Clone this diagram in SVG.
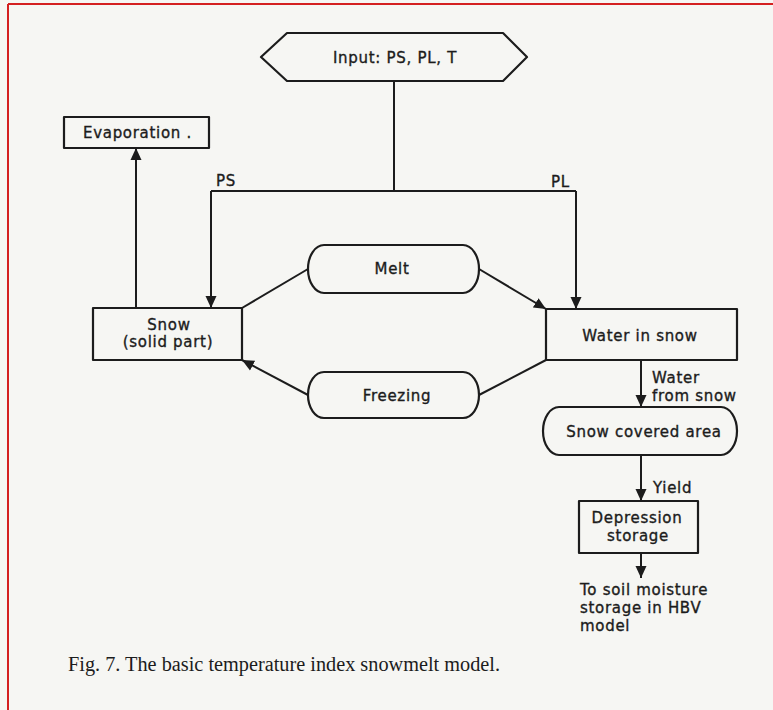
<svg xmlns="http://www.w3.org/2000/svg" width="773" height="710" viewBox="0 0 773 710">
<style>
.bg{fill:#f6f6f3}
.shape{fill:none;stroke:#1c1c1c;stroke-width:2.2;stroke-linejoin:round}
.wire{fill:none;stroke:#1c1c1c;stroke-width:2}
.t{font-family:"DejaVu Sans","Liberation Sans",sans-serif;font-size:15px;fill:#1c1c1c;stroke:#1c1c1c;stroke-width:0.35px;letter-spacing:0.7px}
.m{text-anchor:middle}
.cap{font-family:"Liberation Serif","DejaVu Serif",serif;font-size:20px;fill:#1c1c1c}
</style>
<defs>
<marker id="ah" markerUnits="userSpaceOnUse" markerWidth="13" markerHeight="12" refX="12" refY="6" orient="auto">
<path d="M0,0.5 L12,6 L0,11.5 Z" fill="#1c1c1c"/>
</marker>
</defs>
<rect class="bg" x="0" y="0" width="773" height="710"/>
<line x1="8" y1="4" x2="773" y2="4" stroke="#d42020" stroke-width="2"/>
<line x1="8" y1="4" x2="8" y2="710" stroke="#d42020" stroke-width="2"/>

<g id="connectors">
<polyline class="wire" points="394,81 394,191"/>
<polyline class="wire" points="211,191 576,191"/>
<line class="wire" x1="211" y1="191" x2="211" y2="308" marker-end="url(#ah)"/>
<line class="wire" x1="576" y1="191" x2="576" y2="309" marker-end="url(#ah)"/>
<line class="wire" x1="136" y1="308" x2="136" y2="148" marker-end="url(#ah)"/>
<line class="wire" x1="308" y1="269" x2="242" y2="308"/>
<line class="wire" x1="479" y1="269" x2="546" y2="309" marker-end="url(#ah)"/>
<line class="wire" x1="546" y1="360" x2="479" y2="395"/>
<line class="wire" x1="308" y1="395" x2="242" y2="360" marker-end="url(#ah)"/>
<line class="wire" x1="641" y1="360" x2="641" y2="407" marker-end="url(#ah)"/>
<line class="wire" x1="641" y1="455" x2="641" y2="501" marker-end="url(#ah)"/>
<line class="wire" x1="641" y1="553" x2="641" y2="578" marker-end="url(#ah)"/>
<text class="t" x="216" y="186">PS</text>
<text class="t" x="551" y="187">PL</text>
<text class="t" x="652" y="383">Water</text>
<text class="t" x="652" y="401">from snow</text>
<text class="t" x="653" y="493">Yield</text>
</g>

<g id="input">
<polygon class="shape" points="261,57 287,33 503,33 527,57 503,81 287,81"/>
<text class="t m" x="395" y="63">Input: PS, PL, T</text>
</g>

<g id="evaporation">
<rect class="shape" x="64" y="117" width="145" height="31"/>
<text class="t" x="83" y="138">Evaporation .</text>
</g>

<g id="snow">
<rect class="shape" x="93" y="308" width="149" height="52"/>
<text class="t m" x="169" y="330">Snow</text>
<text class="t m" x="168" y="347">(solid part)</text>
</g>

<g id="melt">
<path class="shape" d="M324,245 H463 A16,24 0 0 1 463,293 H324 A16,24 0 0 1 324,245 Z"/>
<text class="t m" x="392" y="274">Melt</text>
</g>

<g id="freezing">
<path class="shape" d="M324,372 H463 A16,23 0 0 1 463,418 H324 A16,23 0 0 1 324,372 Z"/>
<text class="t m" x="397" y="401">Freezing</text>
</g>

<g id="water-in-snow">
<rect class="shape" x="546" y="309" width="191" height="51"/>
<text class="t m" x="640" y="341">Water in snow</text>
</g>

<g id="snow-covered-area">
<path class="shape" d="M559,407 H721 A16,24 0 0 1 721,455 H559 A16,24 0 0 1 559,407 Z"/>
<text class="t m" x="644" y="437">Snow covered area</text>
</g>

<g id="depression-storage">
<rect class="shape" x="579" y="501" width="119" height="52"/>
<text class="t m" x="637" y="523">Depression</text>
<text class="t m" x="638" y="541">storage</text>
</g>

<g id="soil-moisture">
<text class="t" x="580" y="595">To soil moisture</text>
<text class="t" x="580" y="613">storage in HBV</text>
<text class="t" x="580" y="631">model</text>
</g>

<text class="cap" x="68" y="671" textLength="432" lengthAdjust="spacingAndGlyphs">Fig. 7. The basic temperature index snowmelt model.</text>
</svg>
